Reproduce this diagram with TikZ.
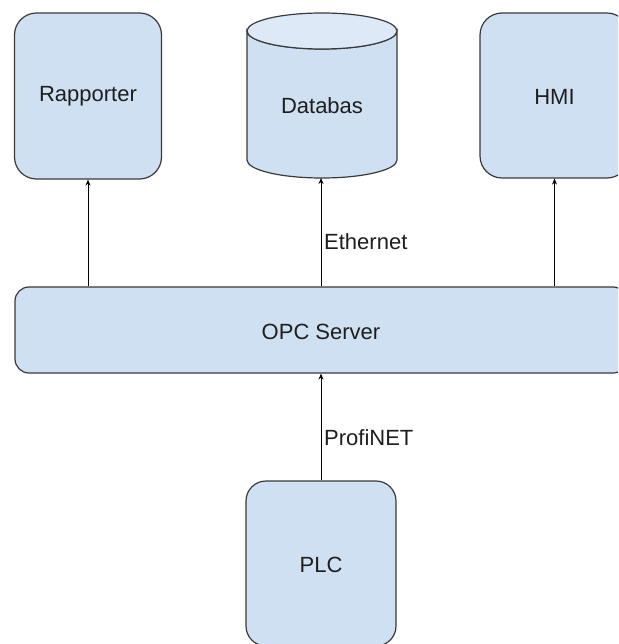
\documentclass[tikz,border=0pt]{standalone}
\usepackage{fontspec}
\setmainfont{Liberation Sans}
\usetikzlibrary{arrows.meta}
\definecolor{boxfill}{HTML}{CFE0F2}
\definecolor{topfill}{HTML}{DDE9F6}
\definecolor{edge}{HTML}{3A3A3A}
\definecolor{txt}{HTML}{1E1E1E}
\tikzset{
  box/.style={draw=edge, line width=1.2pt, fill=boxfill, rounded corners=#1,
    inner sep=0pt, font=\fontsize{22}{26}\selectfont, text=txt},
  box/.default=22pt,
  lbl/.style={inner sep=0pt, font=\fontsize{22}{26}\selectfont, text=txt},
  arr/.style={draw=black, line width=0.9pt, -{Stealth[length=6pt,width=5pt]}},
}
\begin{document}
\begin{tikzpicture}[x=1pt,y=-1pt]
\useasboundingbox (0,0) rectangle (618,644);
\clip (0,0) rectangle (618,644);
\fill[white] (0,0) rectangle (618,644);
% boxes
\node[box, minimum width=147pt, minimum height=166pt] (rap) at (88,96) {Rapporter};
\node[box, minimum width=149pt, minimum height=165pt] (hmi) at (554.5,95.5) {};
\node[lbl] (hmil) at (554.5,97) {HMI};
\node[box=14pt, minimum width=612pt, minimum height=86pt] (opc) at (321,330) {};
\node[lbl] (opcl) at (321,331.5) {OPC Server};
\node[box=20pt, minimum width=150pt, minimum height=165pt] (plc) at (321,563.5) {};
\node[lbl] (plcl) at (321,565) {PLC};
% cylinder
\path[draw=edge, line width=1.2pt, fill=boxfill]
  (247,31) -- (247,160) arc[start angle=180, end angle=0, x radius=75, y radius=18]
  -- (397,31) arc[start angle=0, end angle=180, x radius=75, y radius=18] -- cycle;
\draw[edge, line width=1.2pt, fill=topfill] (322,31) ellipse[x radius=75, y radius=18];
\node[lbl] (db) at (322,106) {Databas};
\coordinate (dbb) at (321,178);
% connectors
\draw[arr] (opc.north -| rap.south) -- (rap.south);
\draw[arr] (opc.north -| dbb) -- (dbb);
\draw[arr] (opc.north -| hmi.south) -- (hmi.south);
\draw[arr] (plc.north -| dbb) -- (opc.south -| dbb);
\node[lbl, anchor=west] (eth) at (324,242) {Ethernet};
\node[lbl, anchor=west] (pn) at (324,438) {ProfiNET};
\end{tikzpicture}
\end{document}
